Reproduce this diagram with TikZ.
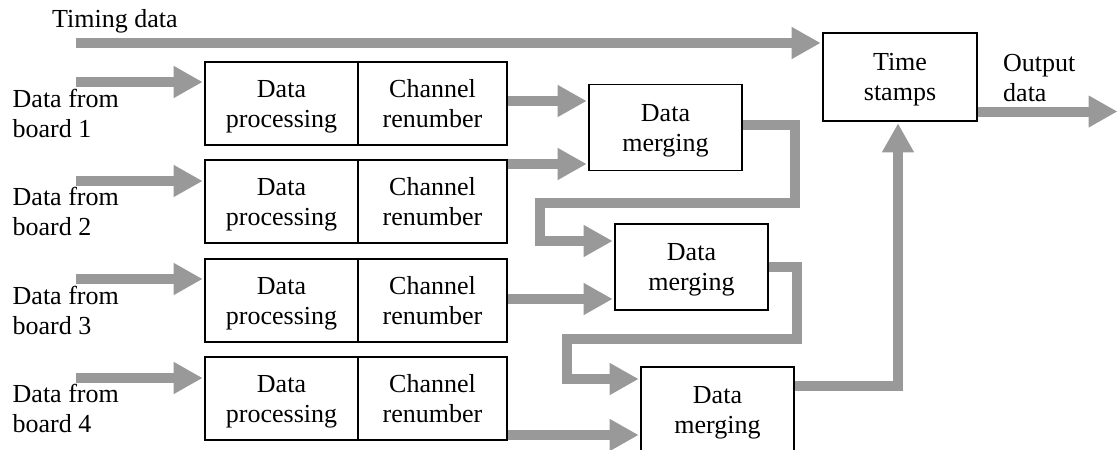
\documentclass[tikz,border=0pt]{standalone}
\usepackage{fontspec}
\setmainfont{Liberation Serif}
\usetikzlibrary{arrows.meta}
\definecolor{flowgray}{HTML}{999999}
\tikzset{
  txt/.style={font=\fontsize{26}{30}\selectfont, inner sep=0pt},
  block/.style={txt, draw=black, line width=1.6pt, align=center,
    text depth=0pt, minimum height=83pt},
  procbox/.style={block, minimum width=153pt},
  renumbox/.style={block, minimum width=149pt},
  mergebox/.style={block, minimum width=153pt, minimum height=86pt},
  boardlbl/.style={txt, align=left, anchor=west, text depth=0pt},
  flow/.style={draw=flowgray, line width=10pt, line join=miter,
    -{Triangle[length=29pt,width=30pt]}, shorten >=1.5pt},
}
\begin{document}
\begin{tikzpicture}[x=1pt, y=-1pt]
\useasboundingbox (0,0) rectangle (1120,450);

% processing chains, one per board
\foreach \i/\y in {1/103.5, 2/201.5, 3/300.5, 4/398.5} {
  \node[procbox] (dp\i) at (281.5,\y) {Data\\processing};
  \node[renumbox] (cr\i) at (432.5,\y) {Channel\\renumber};
  \node[boardlbl] (lb\i) at (12.5,\y+9.5) {Data from\\board \i};
}

% merging stages and time stamping
\node[mergebox] (m1) at (665.5,127.5) {Data\\merging};
\node[mergebox] (m2) at (691.5,267) {Data\\merging};
\node[mergebox] (m3) at (717.5,410) {Data\\merging};
\node[block, minimum width=154pt, minimum height=88pt] (ts) at (900,77) {Time\\stamps};

% labels
\node[txt, anchor=base west] (timing) at (52,27) {Timing data};
\node[boardlbl] (outlbl) at (1003,78) {Output\\data};

% free ends and bends of the connectors
\coordinate (tstart) at (76,43);
\coordinate (in1) at (76,82);
\coordinate (in2) at (76,181);
\coordinate (in3) at (76,279);
\coordinate (in4) at (76,378);
\coordinate (outend) at (1119,111.5);
\coordinate (k1) at (795,203);
\coordinate (k2) at (540,241);
\coordinate (k3) at (797,339);
\coordinate (k4) at (567,379);
\path ([yshift=2.5pt]cr1.east) coordinate (o1)
      ([yshift=37.5pt]cr2.east) coordinate (o2)
      ([yshift=1.5pt]cr3.east) coordinate (o3)
      ([yshift=-36.5pt]cr4.east) coordinate (o4)
      ([yshift=2.5pt]m1.east) coordinate (mo1)
      ([yshift=24pt]m3.east) coordinate (mo3)
      ([yshift=-34.5pt]ts.east) coordinate (tso);

% timing data
\draw[flow] (tstart) -- (tstart -| ts.west);

% board inputs
\foreach \i in {1,2,3,4}
  \draw[flow] (in\i) -- (in\i -| dp\i.west);

% renumbered channels into the merging stages
\draw[flow] (o1) -- (o1 -| m1.west);
\draw[flow] (o2) -- (o2 -| m1.west);
\draw[flow] (o3) -- (o3 -| m2.west);
\draw[flow] (o4) -- (o4 -| m3.west);

% cascade of merging stages
\draw[flow] (mo1) -| (k1) -| (k2) -- (k2 -| m2.west);
\draw[flow] (m2.east) -| (k3) -| (k4) -- (k4 -| m3.west);
\draw[flow] (mo3) -| ([xshift=-2pt]ts.south);

% output
\draw[flow] (tso) -- (outend);
\end{tikzpicture}
\end{document}
